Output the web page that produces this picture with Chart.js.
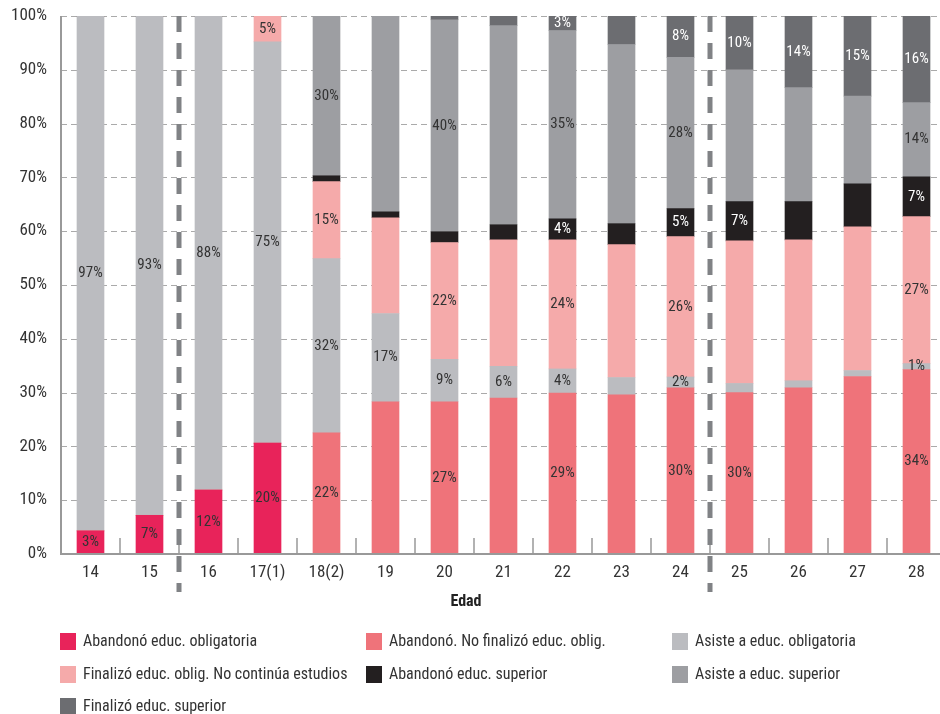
<!DOCTYPE html>
<html>
<head>
<meta charset="utf-8">
<script src="https://cdn.jsdelivr.net/npm/chart.js@4.4.0/dist/chart.umd.min.js"></script>
<style>
  html, body { margin: 0; padding: 0; background: #fff; overflow: hidden; }
  canvas { display: block; }
</style>
</head>
<body>
<canvas id="myChart" width="946" height="714"></canvas>
<script>
var categories = ["14", "15", "16", "17(1)", "18(2)", "19", "20", "21", "22", "23", "24", "25", "26", "27", "28"];

var seriesNames = [
  "Abandonó educ. obligatoria",
  "Abandonó. No finalizó educ. oblig.",
  "Asiste a educ. obligatoria",
  "Finalizó educ. oblig. No continúa estudios",
  "Abandonó educ. superior",
  "Asiste a educ. superior",
  "Finalizó educ. superior"
];
var seriesColors = ["#E8235A", "#EF737A", "#BBBCC0", "#F5AAAA", "#231F20", "#9D9EA2", "#6C6D71"];

// values (% of each age)
var abandonoOblig = [4.3, 7.2, 11.9, 20.6, 0, 0, 0, 0, 0, 0, 0, 0, 0, 0, 0];
var noFinalizo    = [0, 0, 0, 0, 22.5, 28.3, 28.3, 29.0, 29.9, 29.6, 30.9, 30.0, 30.9, 33.0, 34.3];
var asisteOblig   = [95.7, 92.8, 88.1, 74.6, 32.4, 16.4, 7.9, 5.9, 4.5, 3.2, 2.0, 1.7, 1.3, 1.1, 1.1];
var finalizoOblig = [0, 0, 0, 4.8, 14.3, 17.8, 21.7, 23.5, 24.0, 24.7, 26.1, 26.5, 26.2, 26.7, 27.3];
var abandonoSup   = [0, 0, 0, 0, 1.1, 1.1, 2.0, 2.8, 3.9, 3.9, 5.2, 7.3, 7.1, 8.0, 7.4];
var asisteSup     = [0, 0, 0, 0, 29.7, 36.4, 39.4, 37.0, 35.0, 33.3, 28.1, 24.5, 21.2, 16.3, 13.8];
var finalizoSup   = [0, 0, 0, 0, 0, 0, 0.7, 1.8, 2.7, 5.3, 7.7, 10.0, 13.3, 14.9, 16.1];

// printed labels (as shown in the original)
var lblAbandonoOblig = ["3%", "7%", "12%", "20%", null, null, null, null, null, null, null, null, null, null, null];
var lblNoFinalizo    = [null, null, null, null, "22%", null, "27%", null, "29%", null, "30%", "30%", null, null, "34%"];
var lblAsisteOblig   = ["97%", "93%", "88%", "75%", "32%", "17%", "9%", "6%", "4%", null, "2%", null, null, null, "1%"];
var lblFinalizoOblig = [null, null, null, "5%", "15%", null, "22%", null, "24%", null, "26%", null, null, null, "27%"];
var lblAbandonoSup   = [null, null, null, null, null, null, null, null, "4%", null, "5%", "7%", null, null, "7%"];
var lblAsisteSup     = [null, null, null, null, "30%", null, "40%", null, "35%", null, "28%", null, null, null, "14%"];
var lblFinalizoSup   = [null, null, null, null, null, null, null, null, "3%", null, "8%", "10%", "14%", "15%", "16%"];

var yTicks = [0, 10, 20, 30, 40, 50, 60, 70, 80, 90, 100];
var separatorsAfter = [1, 10]; // dashed lines after "15" and after "24"

var seriesValues = [abandonoOblig, noFinalizo, asisteOblig, finalizoOblig, abandonoSup, asisteSup, finalizoSup];
var seriesLabels = [lblAbandonoOblig, lblNoFinalizo, lblAsisteOblig, lblFinalizoOblig, lblAbandonoSup, lblAsisteSup, lblFinalizoSup];
var whiteText = [false, false, false, false, true, false, true];

var FONT = '"Roboto Condensed", "DejaVu Sans Condensed", sans-serif';
Chart.defaults.font.family = FONT;
Chart.defaults.color = "#333";

var datasets = seriesNames.map(function (name, i) {
  return {
    label: name,
    data: seriesValues[i],
    backgroundColor: seriesColors[i],
    borderWidth: 0,
    barThickness: 27
  };
});

var extras = {
  id: "extras",
  beforeDatasetsDraw: function (chart) {
    var ctx = chart.ctx, a = chart.chartArea, y = chart.scales.y;
    ctx.save();
    ctx.strokeStyle = "#aaa";
    ctx.lineWidth = 1.2;
    ctx.setLineDash([6, 4]);
    yTicks.forEach(function (t) {
      if (t === 0) return;
      var py = Math.round(y.getPixelForValue(t)) + 0.5;
      ctx.beginPath();
      ctx.moveTo(a.left, py);
      ctx.lineTo(a.right, py);
      ctx.stroke();
    });
    ctx.restore();
  },
  afterDatasetsDraw: function (chart) {
    var ctx = chart.ctx;
    ctx.save();
    ctx.font = "15px " + FONT;
    ctx.textAlign = "center";
    ctx.textBaseline = "middle";
    seriesLabels.forEach(function (lbls, i) {
      var meta = chart.getDatasetMeta(i);
      lbls.forEach(function (txt, j) {
        if (!txt) return;
        var el = meta.data[j];
        ctx.fillStyle = whiteText[i] ? "#fff" : "#333";
        ctx.fillText(txt, el.x, (el.y + el.base) / 2);
      });
    });
    ctx.restore();
  },
  afterDraw: function (chart) {
    var ctx = chart.ctx, a = chart.chartArea, x = chart.scales.x;
    ctx.save();
    // axes
    ctx.strokeStyle = "#999";
    ctx.lineWidth = 2;
    ctx.beginPath();
    ctx.moveTo(a.left, a.top);
    ctx.lineTo(a.left, a.bottom);
    ctx.lineTo(a.right, a.bottom);
    ctx.stroke();
    // small ticks between categories
    ctx.lineWidth = 1.5;
    for (var j = 0; j < categories.length - 1; j++) {
      var tx = Math.round((x.getPixelForValue(j) + x.getPixelForValue(j + 1)) / 2);
      ctx.beginPath();
      ctx.moveTo(tx, a.bottom);
      ctx.lineTo(tx, a.bottom - 16);
      ctx.stroke();
    }
    // dashed separators
    ctx.strokeStyle = "#808285";
    ctx.lineWidth = 5;
    ctx.setLineDash([16, 11]);
    separatorsAfter.forEach(function (j) {
      var sx = (x.getPixelForValue(j) + x.getPixelForValue(j + 1)) / 2;
      ctx.beginPath();
      ctx.moveTo(sx, a.top);
      ctx.lineTo(sx, 592);
      ctx.stroke();
    });
    ctx.setLineDash([]);
    // axis title
    ctx.fillStyle = "#222";
    ctx.font = "bold 16px " + FONT;
    ctx.textAlign = "center";
    ctx.textBaseline = "middle";
    ctx.fillText("Edad", 466, 602);
    // legend, three columns
    var cols = [60, 366, 672], rows = [641, 674, 706];
    ctx.font = "16px " + FONT;
    ctx.textAlign = "left";
    seriesNames.forEach(function (name, i) {
      var cx = cols[i % 3], cy = rows[Math.floor(i / 3)];
      ctx.fillStyle = seriesColors[i];
      ctx.fillRect(cx, cy - 8, 16, 17);
      ctx.fillStyle = "#333";
      ctx.fillText(name, cx + 23, cy + 1);
    });
    ctx.restore();
  }
};

new Chart("myChart", {
  type: "bar",
  data: { labels: categories, datasets: datasets },
  plugins: [extras],
  options: {
    responsive: false,
    animation: false,
    layout: { padding: { top: 16, left: 0, right: 0, bottom: 0 } },
    plugins: { legend: { display: false }, tooltip: { enabled: false } },
    scales: {
      x: {
        stacked: true,
        grid: { display: false, drawTicks: false },
        border: { display: false },
        ticks: { font: { size: 17 }, color: "#333", padding: 9 },
        afterFit: function (s) { s.height = 160; s.paddingLeft = 0; s.paddingRight = 0; }
      },
      y: {
        stacked: true,
        min: 0,
        max: 100,
        grid: { display: false, drawTicks: false },
        border: { display: false },
        ticks: {
          stepSize: 10,
          font: { size: 17 },
          color: "#333",
          padding: 14,
          callback: function (v) { return v + "%"; }
        },
        afterFit: function (s) { s.width = 61; s.paddingTop = 0; s.paddingBottom = 0; }
      }
    }
  }
});
</script>
</body>
</html>
